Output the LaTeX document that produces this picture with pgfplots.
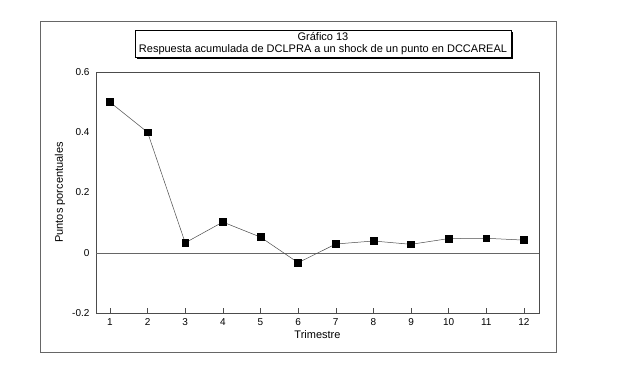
\documentclass[border=0pt]{standalone}
\usepackage{pgfplots}
\pgfplotsset{compat=1.18}
\usepackage{fontspec}
\setmainfont{Liberation Sans}
\begin{document}
\begin{tikzpicture}[x=1pt,y=1pt]
\path[use as bounding box] (0,0) rectangle (617,372);
% outer frame
\draw[gray!80!black,line width=0.6pt] (40,20) rectangle (556,351);
% title box with shadow
\fill[black] (137,313) rectangle (513,340);
\draw[fill=white,line width=0.5pt] (135,315) rectangle (511,342);
\node[align=center,font=\fontsize{11}{12.5}\selectfont] at (323,328.5) {Gráfico 13\\Respuesta acumulada de DCLPRA a un shock de un punto en DCCAREAL};
\begin{axis}[
  at={(96pt,59pt)}, anchor=south west,
  scale only axis, width=443pt, height=241pt,
  xmin=0.63, xmax=12.4, ymin=-0.2, ymax=0.6,
  xtick={1,...,12}, ytick={-0.2,0,0.2,0.4,0.6},
  xtick pos=bottom, ytick pos=left,
  axis line style={line width=0.5pt, black!70},
  tick align=inside, major tick length=5pt,
  xtick style={black!70, line width=0.5pt},
  ytick style={draw=none},
  tick label style={font=\fontsize{10}{11}\selectfont},
  /pgf/number format/assume math mode=true,
  yticklabel style={/pgf/number format/fixed,/pgf/number format/precision=1,xshift=-3pt},
  xticklabel style={yshift=-2pt},
  clip=false,
]
\addplot[black!60, line width=0.5pt, forget plot] coordinates {(0.63,0) (12.4,0)};
\addplot[black!70, line width=0.5pt, mark=square*, mark size=3.4pt, mark options={fill=black,draw=black}]
coordinates {
(1,0.500) (2,0.400) (3,0.033) (4,0.102) (5,0.052) (6,-0.033)
(7,0.029) (8,0.039) (9,0.028) (10,0.047) (11,0.048) (12,0.042)
};
\end{axis}
\node[font=\fontsize{11}{12}\selectfont] at (317.5,37) {Trimestre};
\node[rotate=90,font=\fontsize{11}{12}\selectfont] at (60,179.5) {Puntos porcentuales};
\end{tikzpicture}
\end{document}
